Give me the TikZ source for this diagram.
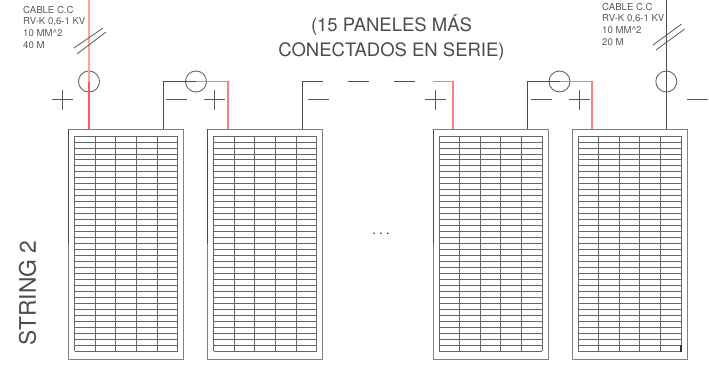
\documentclass[tikz,border=0pt]{standalone}
\usepackage{fontspec}
\setmainfont{TeX Gyre Heros}
\definecolor{wirered}{RGB}{250,125,125}
\tikzset{
  panel/.style={draw=black!50,line width=1pt,minimum width=115pt,minimum height=230pt,inner sep=0pt},
  cell/.style={black!60,line width=0.8pt},
  blackwire/.style={draw=black!70,line width=0.9pt},
  redwire/.style={draw=wirered,line width=1.1pt},
  joint/.style={circle,draw=black!60,line width=0.9pt,minimum size=21pt,inner sep=0pt},
  sign/.style={black!65,line width=0.8pt},
  note/.style={text=black!65,font=\fontsize{9.6}{11.6}\selectfont,align=left,anchor=north west,inner sep=0pt},
  title/.style={text=black!70,font=\fontsize{18.5}{24.3}\selectfont,align=center,inner sep=0pt}
}
\begin{document}
\begin{tikzpicture}[x=1pt,y=-1pt]
\useasboundingbox (0,0) rectangle (709,367);
% panels
\foreach \name/\cx in {panela/126,panelb/265,panelc/490.5,paneld/629.5}{
  \node[panel] (\name) at (\cx,244) {};
  \foreach \i in {0,...,36}
    \draw[cell] (\cx-51.5,136+5.97*\i) -- (\cx+51.5,136+5.97*\i);
  \foreach \i in {0,...,5}
    \draw[cell] (\cx-51.5+20.6*\i,136) -- (\cx-51.5+20.6*\i,351);
}
\draw[blackwire] (68.5,129) -- (68.5,244);
\draw[blackwire] (207.5,129) -- (207.5,244);
\draw[blackwire] (433,129) -- (433,244);
\draw[line width=2pt,black!80] (680.5,345) -- (680.5,352);
% joints
\node[joint] (jointa) at (89,81.5) {};
\node[joint] (jointb) at (196,81.5) {};
\node[joint] (jointc) at (559.5,81.5) {};
\node[joint] (jointd) at (666.3,81.5) {};
% wire ends
\coordinate (topa) at (89,0);
\coordinate (topd) at (666.3,0);
\coordinate (enda) at (89,129);
\coordinate (endb) at (163.5,129);
\coordinate (endc) at (228,129);
\coordinate (endd) at (302,129);
\coordinate (ende) at (453,129);
\coordinate (endf) at (527.3,129);
\coordinate (endg) at (592,129);
\coordinate (endh) at (666.3,129);
\coordinate (gapa) at (322.5,81.5);
\coordinate (gapb) at (348,81.5);
\coordinate (gapc) at (369,81.5);
\coordinate (gapd) at (393.5,81.5);
\coordinate (gape) at (414.5,81.5);
\coordinate (gapf) at (433,81.5);
% wires
\draw[redwire,draw=wirered!70] (topa) -- (jointa.center);
\draw[redwire,draw=red!65,line width=1.3pt] (jointa.center) -- (enda);
\draw[blackwire] (endb) |- (jointb.center);
\draw[redwire] (jointb.center) -| (endc);
\draw[blackwire] (endd) |- (gapa);
\draw[blackwire] (gapb) -- (gapc);
\draw[blackwire] (gapd) -- (gape);
\draw[redwire] (gapf) -| (ende);
\draw[blackwire] (endf) |- (jointc.center);
\draw[redwire] (jointc.center) -| (endg);
\draw[blackwire] (topd) -- (endh);
% cable ticks
\draw[sign] (74,48) -- (103,28);
\draw[sign] (77,54) -- (106,32);
\draw[sign] (653,45) -- (681.7,24);
\draw[sign] (656,50) -- (684.7,29);
% signs
\foreach \x in {62,214.5,435,579}{
  \draw[sign] (\x-10.5,99.5) -- (\x+10.5,99.5);
  \draw[sign] (\x,89.5) -- (\x,109.5);
}
\foreach \x in {176,318.5,541,697}
  \draw[sign] (\x-10.5,99.5) -- (\x+10.5,99.5);
% texts
\node[note] (notea) at (23,6) {CABLE C.C\\RV-K 0,6-1 KV\\10 MM\textasciicircum 2\\40 M};
\node[note] (noteb) at (602,3) {CABLE C.C\\RV-K 0,6-1 KV\\10 MM\textasciicircum 2\\20 M};
\node[title] (titlea) at (391.5,37.5) {(15 PANELES MÁS\\CONECTADOS EN SERIE)};
\node[text=black!70,font=\fontsize{22.8}{24}\selectfont,rotate=90,inner sep=0pt] (stringa) at (27.5,293) {STRING 2};
\node[text=black!80,font=\fontsize{14}{14}\selectfont,inner sep=0pt,anchor=base] (dots) at (381,234) {.\kern3pt.\kern3pt.};
\end{tikzpicture}
\end{document}
